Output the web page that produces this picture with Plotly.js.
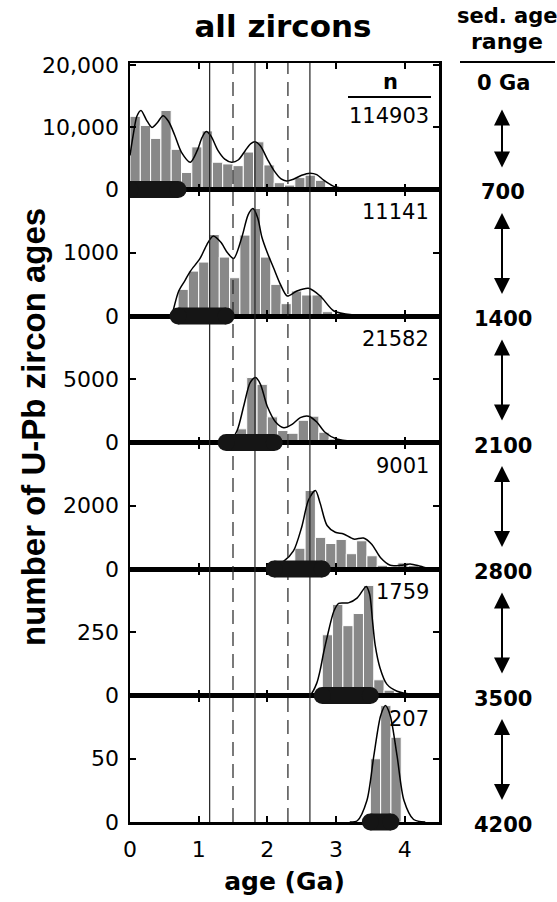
<!DOCTYPE html>
<html><head><meta charset="utf-8">
<script src="https://cdn.plot.ly/plotly-3.0.1.min.js"></script>
<style>html,body{margin:0;padding:0;background:#fff}#chart{width:557px;height:902px}</style>
</head><body><div id="chart"></div>
<script>
// ---- data ----
const binWidth = 0.15;
const binStart = [0, 0.7, 1.4, 2.1, 2.8, 3.5];
const counts1 = [11800, 10330, 8240, 12750, 6480, 2750, 6870, 9450, 4400, 4120, 3850, 6040, 7690, 3960, 1100, 710, 1920, 2310, 1480, 280, 110, 60, 30, 20, 10, 5];
const counts2 = [421, 710, 853, 1289, 932, 605, 1279, 1700, 932, 500, 195, 395, 332, 332, 68, 30, 15, 10];
const counts3 = [200, 1081, 5135, 4595, 2027, 946, 730, 1757, 2081, 811, 270, 100, 50, 30];
const counts4 = [50, 250, 656, 2483, 1000, 806, 935, 484, 892, 419, 118, 54, 194, 108, 30];
const counts5 = [240, 360, 276, 324, 435, 62, 21, 5];
const counts6 = [50, 92, 67];

const kdeX1 = [0, 0.05, 0.1, 0.16, 0.24, 0.32, 0.4, 0.48, 0.56, 0.65, 0.75, 0.88, 0.98, 1.05, 1.11, 1.18, 1.28, 1.38, 1.48, 1.58, 1.68, 1.76, 1.82, 1.9, 2.0, 2.1, 2.2, 2.28, 2.38, 2.5, 2.62, 2.72, 2.82, 2.96, 3.1, 3.3, 3.6, 4.0, 4.5];
const kdeY1 = [5500, 9000, 11800, 12750, 11200, 10000, 10800, 11900, 11000, 8800, 6000, 4400, 6300, 8400, 9340, 8600, 6300, 4900, 4400, 4800, 6300, 7400, 7690, 7000, 4900, 3000, 1700, 1380, 1650, 2300, 2640, 2400, 1500, 550, 220, 80, 25, 8, 0];
const kdeX2 = [0.61, 0.71, 0.8, 0.88, 1.02, 1.12, 1.21, 1.32, 1.42, 1.51, 1.63, 1.72, 1.79, 1.86, 1.92, 2.0, 2.09, 2.19, 2.29, 2.43, 2.6, 2.77, 2.97, 3.26, 3.6, 4.5];
const kdeY2 = [0, 395, 560, 710, 910, 1130, 1263, 1170, 1000, 910, 1250, 1600, 1700, 1550, 1250, 1000, 763, 500, 316, 395, 437, 316, 79, 15, 3, 0];
const kdeX3 = [1.35, 1.46, 1.56, 1.66, 1.75, 1.83, 1.9, 2.0, 2.12, 2.24, 2.36, 2.48, 2.6, 2.72, 2.84, 3.01, 3.26, 3.7, 4.5];
const kdeY3 = [0, 135, 946, 2970, 4730, 5135, 4600, 2840, 1620, 1160, 1430, 1970, 2080, 1620, 810, 270, 80, 10, 0];
const kdeX4 = [1.95, 2.0, 2.24, 2.38, 2.5, 2.6, 2.7, 2.77, 2.87, 2.99, 3.11, 3.26, 3.4, 3.52, 3.65, 3.79, 3.94, 4.08, 4.23, 4.37, 4.5];
const kdeY4 = [0, 30, 247, 570, 1322, 2182, 2483, 2075, 1376, 1161, 1107, 946, 978, 785, 355, 118, 118, 161, 86, 10, 0];
const kdeX5 = [2.55, 2.63, 2.72, 2.77, 2.82, 2.87, 2.97, 3.04, 3.18, 3.31, 3.44, 3.49, 3.53, 3.57, 3.64, 3.74, 3.89, 4.13, 4.4];
const kdeY5 = [0, 4, 49, 101, 170, 230, 334, 364, 366, 386, 431, 400, 300, 200, 110, 45, 17, 4, 0];
const kdeX6 = [3.2, 3.31, 3.45, 3.55, 3.65, 3.72, 3.79, 3.89, 3.99, 4.13, 4.3];
const kdeY6 = [0, 1, 17, 52, 84, 92, 84, 52, 17, 2, 0];

const sedAgeMin = [0, 0.7, 1.4, 2.1, 2.8, 3.5];
const sedAgeMax = [0.7, 1.4, 2.1, 2.8, 3.5, 3.8];
const nCounts = [114903, 11141, 21582, 9001, 1759, 207];
const yMax = [20400, 2000, 10000, 4000, 500, 100];
const yTickVals = [[0, 10000, 20000], [0, 1000], [0, 5000], [0, 2000], [0, 250], [0, 50]];
const yTickText = [['0', '10,000', '20,000'], ['0', '1000'], ['0', '5000'], ['0', '2000'], ['0', '250'], ['0', '50']];
const xTickVals = [0, 1, 2, 3, 4];
const solidAges = [1.16, 1.82, 2.62];
const dashedAges = [1.5, 2.3];
const sedAgeLabels = ['0 Ga', '700', '1400', '2100', '2800', '3500', '4200'];

// ---- build ----
const countsByPanel = [counts1, counts2, counts3, counts4, counts5, counts6];
const kdeXs = [kdeX1, kdeX2, kdeX3, kdeX4, kdeX5, kdeX6];
const kdeYs = [kdeY1, kdeY2, kdeY3, kdeY4, kdeY5, kdeY6];
const nP = 6;
const TICKFONT = {family: 'DejaVu Sans', size: 22, color: '#000'};
const traces = [];
const layout = {
  width: 557, height: 902,
  margin: {l: 130, r: 118, t: 63, b: 80},
  paper_bgcolor: '#fff', plot_bgcolor: '#fff',
  showlegend: false, bargap: 0,
  title: {text: '<b>all zircons</b>', x: 283 / 557, xanchor: 'center', y: 1 - 26 / 902, yanchor: 'middle',
          font: {family: 'DejaVu Sans', size: 31, color: '#000'}},
  shapes: [], annotations: []
};
const ax = k => (k === 0 ? '' : String(k + 1));
for (let k = 0; k < nP; k++) {
  const xa = 'x' + ax(k), ya = 'y' + ax(k);
  const centers = countsByPanel[k].map((_, i) => binStart[k] + binWidth * (i + 0.5));
  traces.push({type: 'bar', x: centers, y: countsByPanel[k], width: binWidth, xaxis: xa, yaxis: ya,
    marker: {color: '#888888', line: {color: '#ffffff', width: 1}}, hoverinfo: 'skip'});
  traces.push({type: 'scatter', mode: 'lines', x: kdeXs[k], y: kdeYs[k], xaxis: xa, yaxis: ya,
    line: {color: '#000', width: 1.5, shape: 'spline', smoothing: 0.8}, hoverinfo: 'skip'});
  const dom = [1 - (k + 1) / nP, 1 - k / nP];
  layout['xaxis' + ax(k)] = {domain: [0, 1], anchor: ya, range: [0, 4.5], tickvals: xTickVals,
    ticks: 'inside', ticklen: 6, tickwidth: 2, tickcolor: '#000', mirror: 'ticks', showline: true, linewidth: 2.5,
    linecolor: '#000', showgrid: false, zeroline: false, showticklabels: k === nP - 1, tickfont: TICKFONT,
    ticklabelstandoff: 6};
  if (k !== 0) layout['xaxis' + ax(k)].matches = 'x';
  layout['yaxis' + ax(k)] = {domain: dom, anchor: xa, range: [0, yMax[k]], tickvals: yTickVals[k], ticktext: yTickText[k],
    ticks: 'inside', ticklen: 6, tickwidth: 2, tickcolor: '#000', mirror: 'ticks', showline: true, linewidth: 2.5,
    linecolor: '#000', showgrid: false, zeroline: false, tickfont: TICKFONT, ticklabelstandoff: 4};
  // n label
  layout.annotations.push({xref: 'paper', yref: ya + ' domain', x: 0.975, y: 1, xanchor: 'right', yanchor: 'middle',
    yshift: k === 0 ? -53 : -23, text: String(nCounts[k]), showarrow: false,
    font: {family: 'DejaVu Sans', size: 21, color: '#000'}});
}
layout.xaxis6.title = {text: '<b>age (Ga)</b>', font: {family: 'DejaVu Sans', size: 25, color: '#000'}, standoff: 12};

// vertical reference lines spanning all panels
solidAges.forEach(a => layout.shapes.push({type: 'line', xref: 'x', yref: 'paper', x0: a, x1: a, y0: 0, y1: 1,
  layer: 'above', line: {color: '#222', width: 1.2}}));
dashedAges.forEach(a => layout.shapes.push({type: 'line', xref: 'x', yref: 'paper', x0: a, x1: a, y0: 0, y1: 1,
  layer: 'above', line: {color: '#222', width: 1.2, dash: '14px,8px'}}));

// sediment-age capsules
const R = 8.5;
for (let k = 0; k < nP; k++) {
  const xa = 'x' + ax(k);
  const yb = 1 - (k + 1) / nP;
  const base = {xref: xa, yref: 'paper', ysizemode: 'pixel', yanchor: yb, y0: -R, y1: R, layer: 'above',
    fillcolor: '#151515', line: {width: 0}};
  layout.shapes.push(Object.assign({type: 'rect', x0: sedAgeMin[k], x1: sedAgeMax[k]}, base));
  [sedAgeMin[k], sedAgeMax[k]].forEach(v => layout.shapes.push(Object.assign({type: 'circle',
    xsizemode: 'pixel', xanchor: v, x0: -R, x1: R}, base)));
}

// n header
layout.annotations.push({xref: 'paper', yref: 'paper', x: (390 - 130) / 309, y: (822 - 82) / 759, text: '<b>n</b>',
  showarrow: false, xanchor: 'center', yanchor: 'middle', font: {family: 'DejaVu Sans', size: 21, color: '#000'}});
layout.shapes.push({type: 'line', xref: 'paper', yref: 'paper', x0: (348 - 130) / 309, x1: (431 - 130) / 309,
  y0: (822 - 97) / 759, y1: (822 - 97) / 759, line: {color: '#000', width: 2}});

// y title
layout.annotations.push({xref: 'paper', yref: 'paper', x: (33 - 130) / 309, y: (822 - 427) / 759, textangle: -90,
  text: '<b>number of U-Pb zircon ages</b>', showarrow: false, xanchor: 'center', yanchor: 'middle',
  font: {family: 'Liberation Sans', size: 33, color: '#000'}});

// right-hand sediment age scale
const RX = (503 - 130) / 309;
const RFONT = {family: 'DejaVu Sans', size: 21, color: '#000'};
layout.annotations.push({xref: 'paper', yref: 'paper', x: (507 - 130) / 309, y: (822 - 16) / 759, text: '<b>sed. age</b>',
  showarrow: false, xanchor: 'center', yanchor: 'middle', font: RFONT});
layout.annotations.push({xref: 'paper', yref: 'paper', x: (507 - 130) / 309, y: (822 - 42) / 759, text: '<b>range</b>',
  showarrow: false, xanchor: 'center', yanchor: 'middle', font: {family: 'DejaVu Sans', size: 22, color: '#000'}});
layout.shapes.push({type: 'line', xref: 'paper', yref: 'paper', x0: (460 - 130) / 309, x1: (555 - 130) / 309,
  y0: (822 - 62) / 759, y1: (822 - 62) / 759, line: {color: '#000', width: 2}});
sedAgeLabels.forEach((t, i) => {
  layout.annotations.push({xref: 'paper', yref: 'paper', x: RX, y: 1 - i / nP, yshift: i === 0 ? -20 : -3,
    text: '<b>' + t + '</b>', showarrow: false, xanchor: 'center', yanchor: 'middle', font: RFONT});
});
const panelPx = 759 / nP;
for (let k = 0; k < nP; k++) {
  const topOff = k === 0 ? 45 : 22;
  const len = panelPx - topOff - 22;
  layout.annotations.push({xref: 'paper', yref: 'paper', x: (502 - 130) / 309, y: 1 - (k + 1) / nP, yshift: 22,
    ax: 0, ay: -len, axref: 'pixel', ayref: 'pixel', text: '', showarrow: true, arrowside: 'end+start',
    arrowhead: 2, arrowsize: 1.6, arrowwidth: 2, arrowcolor: '#000', standoff: 0, startstandoff: 0,
    startarrowhead: 2, startarrowsize: 1.6});
}

Plotly.newPlot('chart', traces, layout, {staticPlot: true, displayModeBar: false});
</script>
</body></html>
